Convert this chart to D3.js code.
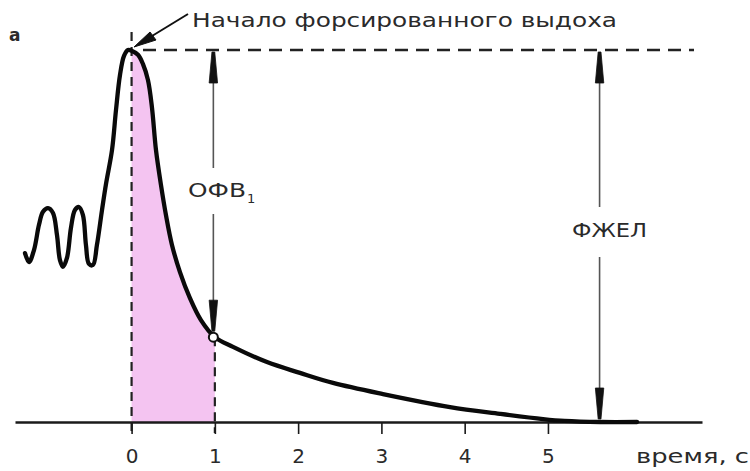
<!DOCTYPE html>
<html>
<head>
<meta charset="utf-8">
<script src="https://cdn.jsdelivr.net/npm/d3@7"></script>
<style>
  html, body { margin: 0; padding: 0; background: #fff; }
  svg { display: block; }
  text { font-family: "DejaVu Sans", Verdana, sans-serif; fill: #2a2a2a; }
</style>
</head>
<body>
<svg id="chart" width="750" height="471"></svg>
<script>
// Spirogram: exhaled volume (% of FVC) against time, s
const timeS = [-1.280, -1.232, -1.172, -1.112, -1.064, -1.004, -0.944, -0.896, -0.860, -0.824,
               -0.776, -0.728, -0.680, -0.632, -0.584, -0.548, -0.512, -0.464, -0.416, -0.355,
               -0.307, -0.235, -0.187, -0.139, -0.091, -0.043, 0.0, 0.077, 0.137, 0.197,
               0.245, 0.293, 0.353, 0.413, 0.485, 0.581, 0.701, 0.833, 1.0, 1.218,
               1.626, 2.022, 2.419, 3.019, 3.824, 4.424, 4.941, 5.2, 5.626, 6.07];
const volumePct = [45.4, 43.0, 46.2, 53.0, 56.5, 57.5, 56.2, 50.3, 43.5, 41.7,
                   44.1, 52.2, 57.0, 57.8, 55.6, 47.6, 42.5, 42.2, 47.6, 57.0,
                   64.0, 73.1, 83.9, 93.3, 98.4, 100, 99.8, 98.7, 96.2, 91.9,
                   84.5, 73.1, 63.7, 55.6, 47.6, 40.3, 33.3, 27.4, 22.8, 20.2,
                   16.1, 13.2, 10.5, 7.5, 4.0, 2.2, 0.8, 0.3, 0, 0];
const tickValues = [0, 1, 2, 3, 4, 5];
const tickLabels = ["0", "1", "2", "3", "4", "5"];
const fev1Time = 1;      // end of the first second
const fvcTime = 5.62;    // position of the FVC span arrow
const fvcTop = 100;      // full vital capacity level

const points = timeS.map((t, i) => ({ t, v: volumePct[i] }));
const fev1Point = points.find(p => p.t === fev1Time);

const svg = d3.select("#chart");
const x = d3.scaleLinear().domain([-1.4, 6.85]).range([15, 702]);
const y = d3.scaleLinear().domain([0, 100]).range([422, 50]);

// shaded first-second volume
const area = d3.area()
  .x(d => x(d.t)).y0(y(0)).y1(d => y(d.v))
  .curve(d3.curveCatmullRom.alpha(0.5));
svg.append("path")
  .datum(points.filter(p => p.t >= 0 && p.t <= fev1Time))
  .attr("d", area)
  .attr("fill", "#f4c4f1");

// dashed guides
svg.append("line")
  .attr("x1", x(0)).attr("x2", x(0))
  .attr("y1", 32).attr("y2", y(0) + 11)
  .attr("stroke", "#222").attr("stroke-width", 2.2)
  .attr("stroke-dasharray", "9,6");
svg.append("line")
  .attr("x1", x(fev1Time)).attr("x2", x(fev1Time))
  .attr("y1", y(fev1Point.v)).attr("y2", y(0) + 11)
  .attr("stroke", "#222").attr("stroke-width", 2.2)
  .attr("stroke-dasharray", "9,6");
svg.append("line")
  .attr("x1", 143).attr("x2", 694)
  .attr("y1", y(fvcTop)).attr("y2", y(fvcTop))
  .attr("stroke", "#222").attr("stroke-width", 2.5)
  .attr("stroke-dasharray", "13,8");

// time axis
const axis = d3.axisBottom(x)
  .tickValues(tickValues)
  .tickFormat((d, i) => tickLabels[i])
  .tickSize(12)
  .tickSizeOuter(0);
const gAxis = svg.append("g")
  .attr("transform", `translate(0,${y(0)})`)
  .call(axis);
gAxis.select(".domain").attr("stroke", "#1a1a1a").attr("stroke-width", 2.5);
gAxis.selectAll(".tick line").attr("stroke", "#1a1a1a").attr("stroke-width", 1.6);
gAxis.selectAll(".tick text")
  .attr("y", 41).attr("dy", 0)
  .style("font-family", "'DejaVu Sans', sans-serif")
  .style("font-size", "20px")
  .attr("fill", "#2a2a2a");

// volume curve
const line = d3.line()
  .x(d => x(d.t)).y(d => y(d.v))
  .curve(d3.curveCatmullRom.alpha(0.5));
svg.append("path")
  .datum(points)
  .attr("d", line)
  .attr("fill", "none")
  .attr("stroke", "#0a0a0a")
  .attr("stroke-width", 4.3)
  .attr("stroke-linejoin", "round")
  .attr("stroke-linecap", "round");

// span arrows with elongated heads
function arrowHead(cx, tipY, dir) {
  const len = 31, half = 4.2;
  const baseY = tipY + dir * len;
  svg.append("path")
    .attr("d", `M${cx - 1.4},${tipY} L${cx + 1.4},${tipY} L${cx + half},${baseY} L${cx - half},${baseY} Z`)
    .attr("fill", "#111").attr("stroke", "#111").attr("stroke-width", 0.8);
}
function spanArrow(cx, topY, botY, gapTop, gapBot) {
  svg.append("line").attr("x1", cx).attr("x2", cx).attr("y1", topY + 20).attr("y2", gapTop)
    .attr("stroke", "#555").attr("stroke-width", 1.6);
  svg.append("line").attr("x1", cx).attr("x2", cx).attr("y1", gapBot).attr("y2", botY - 20)
    .attr("stroke", "#555").attr("stroke-width", 1.6);
  arrowHead(cx, topY, 1);
  arrowHead(cx, botY, -1);
}
spanArrow(x(fev1Time) - 1.5, y(fvcTop) + 2, y(fev1Point.v) - 6, 168, 214);
spanArrow(x(fvcTime), y(fvcTop) + 2, y(0) - 3, 207, 257);

// first-second point marker
svg.append("circle")
  .attr("cx", x(fev1Point.t) - 1.5).attr("cy", y(fev1Point.v))
  .attr("r", 4.5)
  .attr("fill", "#fff").attr("stroke", "#111").attr("stroke-width", 2);

// pointer to the peak
svg.append("line")
  .attr("x1", 188).attr("y1", 14).attr("x2", 152).attr("y2", 36)
  .attr("stroke", "#111").attr("stroke-width", 2);
svg.append("path")
  .attr("d", "M134,47 L150,32 L156,40 Z")
  .attr("fill", "#111").attr("stroke", "#111").attr("stroke-width", 1);

// labels
svg.append("text").attr("x", 192).attr("y", 27)
  .attr("textLength", 425).attr("lengthAdjust", "spacingAndGlyphs")
  .style("font-size", "20px")
  .text("Начало форсированного выдоха");
svg.append("text").attr("x", 9).attr("y", 41)
  .style("font-size", "17px").style("font-weight", "bold")
  .text("а");
const ofv = svg.append("text").attr("x", 188).attr("y", 197)
  .style("font-size", "20px");
ofv.append("tspan").attr("textLength", 58).attr("lengthAdjust", "spacingAndGlyphs").text("ОФВ");
svg.append("text").attr("x", 247).attr("y", 203)
  .style("font-size", "13px").text("1");
svg.append("text").attr("x", 572).attr("y", 237)
  .attr("textLength", 75).attr("lengthAdjust", "spacingAndGlyphs")
  .style("font-size", "20px").text("ФЖЕЛ");
svg.append("text").attr("x", 636).attr("y", 463)
  .attr("textLength", 113).attr("lengthAdjust", "spacingAndGlyphs")
  .style("font-size", "19px").attr("fill", "#444").text("время, с");
</script>
</body>
</html>
